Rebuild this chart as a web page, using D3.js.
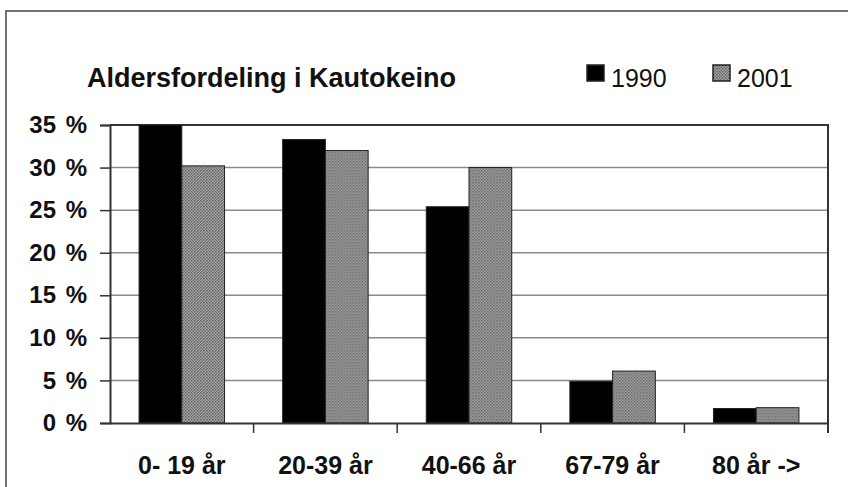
<!DOCTYPE html>
<html>
<head>
<meta charset="utf-8">
<script src="https://cdn.jsdelivr.net/npm/d3@7"></script>
<style>
  body { margin: 0; background: #fff; overflow: hidden; }
  svg { display: block; }
  text { font-family: "Liberation Sans", Arial, sans-serif; fill: #111; }
</style>
</head>
<body>
<div id="chart"></div>
<script>
const categories = ['0- 19 år', '20-39 år', '40-66 år', '67-79 år', '80 år ->'];
const seriesNames = ['1990', '2001'];
const values1990 = [35, 33.3, 25.4, 4.9, 1.7];
const values2001 = [30.2, 32.0, 30.0, 6.1, 1.8];
const yTicks = [0, 5, 10, 15, 20, 25, 30, 35];

const width = 848;
const height = 487;
const margin = { top: 125, right: 20, bottom: 64, left: 110 };

const svg = d3.select('#chart')
  .append('svg')
  .attr('width', width)
  .attr('height', height);

// dotted gray fill for 2001
const defs = svg.append('defs');
const pat = defs.append('pattern')
  .attr('id', 'dots')
  .attr('width', 3)
  .attr('height', 3)
  .attr('patternUnits', 'userSpaceOnUse');
pat.append('rect').attr('width', 3).attr('height', 3).attr('fill', '#a8a8a8');
pat.append('rect').attr('width', 1.5).attr('height', 1.5).attr('fill', '#5e5e5e');
pat.append('rect').attr('x', 1.5).attr('y', 1.5).attr('width', 1.5).attr('height', 1.5).attr('fill', '#707070');

// outer frame
svg.append('path')
  .attr('d', `M6,${height} L6,11 L${width},11`)
  .attr('fill', 'none')
  .attr('stroke', '#444')
  .attr('stroke-width', 1.5);

const innerWidth = width - margin.left - margin.right;
const innerHeight = height - margin.top - margin.bottom;

const chart = svg.append('g')
  .attr('transform', `translate(${margin.left}, ${margin.top})`);

const x = d3.scaleBand()
  .domain(categories)
  .range([0, innerWidth]);

const xSub = d3.scaleBand()
  .domain(seriesNames)
  .range([0, x.bandwidth()])
  .paddingOuter(0.68)
  .paddingInner(0);

const y = d3.scaleLinear()
  .domain([0, 35])
  .range([innerHeight, 0]);

const color = { '1990': '#000', '2001': 'url(#dots)' };

// gridlines
chart.append('g')
  .selectAll('line')
  .data(yTicks.filter(d => d > 0 && d < 35))
  .enter()
  .append('line')
  .attr('x1', 0)
  .attr('x2', innerWidth)
  .attr('y1', d => y(d))
  .attr('y2', d => y(d))
  .attr('stroke', '#8a8a8a')
  .attr('stroke-width', 1.5);

// plot frame top + right
chart.append('path')
  .attr('d', `M0,${y(35)} L${innerWidth},${y(35)} L${innerWidth},${y(0) + 10}`)
  .attr('fill', 'none')
  .attr('stroke', '#333')
  .attr('stroke-width', 2);

const rows = categories.map((c, i) => ({ cat: c, '1990': values1990[i], '2001': values2001[i] }));

chart.append('g')
  .selectAll('g')
  .data(rows)
  .enter()
  .append('g')
  .attr('transform', d => `translate(${x(d.cat)}, 0)`)
  .selectAll('rect')
  .data(d => seriesNames.map(k => ({ key: k, value: d[k] })))
  .enter()
  .append('rect')
  .attr('x', d => xSub(d.key))
  .attr('y', d => y(d.value))
  .attr('width', xSub.bandwidth())
  .attr('height', d => y(0) - y(d.value))
  .attr('fill', d => color[d.key])
  .attr('stroke', '#222')
  .attr('stroke-width', 1);

// axes
const yAxis = chart.append('g')
  .call(d3.axisLeft(y).tickValues(yTicks).tickSize(10).tickPadding(13).tickFormat(d => d + '\u2009\u2009%'));
yAxis.select('.domain').attr('stroke', '#333').attr('stroke-width', 2);
yAxis.selectAll('.tick line').attr('stroke', '#333').attr('stroke-width', 1.5);
yAxis.selectAll('.tick text')
  .style('font-size', '24px')
  .style('font-weight', 'bold')
  .style('font-family', '"Liberation Sans", Arial, sans-serif')
  .attr('fill', '#222');

const xAxis = chart.append('g')
  .attr('transform', `translate(0, ${innerHeight})`)
  .call(d3.axisBottom(x).tickSize(0).tickPadding(33));
xAxis.select('.domain').attr('stroke', '#333').attr('stroke-width', 2);
xAxis.selectAll('.tick text')
  .style('font-size', '25px')
  .style('font-weight', 'bold')
  .style('font-family', '"Liberation Sans", Arial, sans-serif')
  .attr('fill', '#222');

// category boundary ticks
xAxis.selectAll('.bound')
  .data(categories.slice(1))
  .enter()
  .append('line')
  .attr('x1', d => x(d))
  .attr('x2', d => x(d))
  .attr('y1', 0)
  .attr('y2', 10)
  .attr('stroke', '#333')
  .attr('stroke-width', 1.5);

// title
svg.append('text')
  .attr('x', 87)
  .attr('y', 87)
  .style('font-size', '27px')
  .style('font-weight', 'bold')
  .attr('fill', '#222')
  .text('Aldersfordeling i Kautokeino');

// legend
const legendX = [587, 713];
seriesNames.forEach((name, i) => {
  const g = svg.append('g').attr('transform', `translate(${legendX[i]}, 65)`);
  g.append('rect')
    .attr('width', 17)
    .attr('height', 16)
    .attr('fill', color[name])
    .attr('stroke', '#222')
    .attr('stroke-width', 1.5);
  g.append('text')
    .attr('x', 24)
    .attr('y', 22)
    .style('font-size', '25px')
    .attr('fill', '#222')
    .text(name);
});
</script>
</body>
</html>
